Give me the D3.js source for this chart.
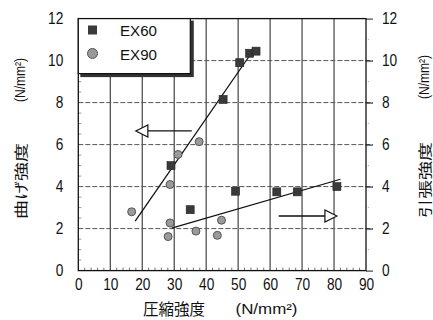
<!DOCTYPE html>
<html><head><meta charset="utf-8">
<script src="https://cdn.jsdelivr.net/npm/d3@7"></script>
<style>
html,body{margin:0;padding:0;background:#fff;}
svg{display:block;}
.num{font-family:"Liberation Sans",Arial,sans-serif;}
.cjk{font-family:"Noto Sans CJK JP",sans-serif;}
</style></head><body>
<svg id="c" width="433" height="320"></svg>
<script>
// ---- data ----
const xTicks = [0,10,20,30,40,50,60,70,80,90];
const yTicks = [0,2,4,6,8,10,12];
const seriesNames = ["EX60","EX90"];
const ex60X = [29,35,45.3,49.2,50.5,53.6,55.6,62.1,68.5,80.9];
const ex60Y = [5.0,2.9,8.15,3.78,9.9,10.35,10.45,3.75,3.75,4.0];
const ex90X = [16.7,28.7,31.2,37.8,28.7,28.1,36.8,44.8,43.5];
const ex90Y = [2.8,4.1,5.53,6.14,2.27,1.62,1.88,2.4,1.68];
const bendLineX = [17.8,54.1];
const bendLineY = [2.36,10.35];
const tensLineX = [29.2,82.0];
const tensLineY = [2.02,4.35];
const arrowLeft = {from:35.5, to:18.0, y:6.65};
const arrowRight = {from:62.7, to:80.9, y:2.6};
const xTitle = ["圧縮強度","(N/mm²)"];
const yLeftTitle = ["曲げ強度","(N/mm²)"];
const yRightTitle = ["引張強度","(N/mm²)"];

// ---- layout ----
const svg = d3.select("#c");
const L=78.3, R=366, T=18.6, B=270.6;
const x = d3.scaleLinear().domain([0,90]).range([L,R]);
const y = d3.scaleLinear().domain([0,12]).range([B,T]);

// grid
const g = svg.append("g");
g.selectAll(".vg").data(xTicks.filter(d=>d>0&&d<90)).enter().append("line")
  .attr("x1",d=>x(d)).attr("x2",d=>x(d)).attr("y1",y(0)).attr("y2",y(12))
  .attr("stroke","#333").attr("stroke-width",1.1);
g.selectAll(".hg").data(yTicks.filter(d=>d>0&&d<12)).enter().append("line")
  .attr("x1",x(0)).attr("x2",x(90)+7).attr("y1",d=>y(d)).attr("y2",d=>y(d))
  .attr("stroke","#555").attr("stroke-width",1).attr("stroke-dasharray","5,2");

// minor ticks
const xMinor = d3.range(0,91,2).filter(d=>d%10!==0);
g.selectAll(".xm").data(xMinor).enter().append("line")
  .attr("x1",d=>x(d)).attr("x2",d=>x(d)).attr("y1",y(0)).attr("y2",y(0)-3)
  .attr("stroke","#777").attr("stroke-width",1);
const yMinor = d3.range(0.5,12,0.5).filter(d=>d%2!==0);
g.selectAll(".ym").data(yMinor).enter().append("line")
  .attr("x1",x(0)).attr("x2",x(0)+3).attr("y1",d=>y(d)).attr("y2",d=>y(d))
  .attr("stroke","#999").attr("stroke-width",1);
g.selectAll(".yrm").data(d3.range(1,12,2)).enter().append("line")
  .attr("x1",x(90)).attr("x2",x(90)+4).attr("y1",d=>y(d)).attr("y2",d=>y(d))
  .attr("stroke","#aaa").attr("stroke-width",1).attr("stroke-dasharray","1,1");

// axes
const ax = svg.append("g").attr("transform",`translate(0,${B})`)
  .call(d3.axisBottom(x).tickValues(xTicks).tickSize(0).tickPadding(8));
const ayl = svg.append("g").attr("transform",`translate(${L},0)`)
  .call(d3.axisLeft(y).tickValues(yTicks).tickSize(0).tickPadding(15));
const ayr = svg.append("g").attr("transform",`translate(${R},0)`)
  .call(d3.axisRight(y).tickValues(yTicks).tickSize(7).tickPadding(9));
[ax,ayl,ayr].forEach(a=>{
  a.select(".domain").remove();
  a.selectAll("line").attr("stroke","#222");
  a.selectAll("text").attr("class","num").attr("font-size",16).attr("fill","#111")
    .attr("textLength",function(){return this.textContent.length*7.6;})
    .attr("lengthAdjust","spacingAndGlyphs");
});
// frame
svg.append("rect").attr("x",L).attr("y",T).attr("width",R-L).attr("height",B-T)
  .attr("fill","none").attr("stroke","#111").attr("stroke-width",1.3);

// legend
const lg = svg.append("g");
lg.append("rect").attr("x",L+2).attr("y",T+2).attr("width",113.5).attr("height",56.5).attr("fill","#333");
lg.append("rect").attr("x",L).attr("y",T).attr("width",112).attr("height",55)
  .attr("fill","#fff").attr("stroke","#111").attr("stroke-width",1.2);
lg.append("rect").attr("x",88).attr("y",25.5).attr("width",9).attr("height",9).attr("fill","#3a3a3a");
lg.append("circle").attr("cx",92.5).attr("cy",53.5).attr("r",5).attr("fill","#999").attr("stroke","#555").attr("stroke-width",1);
lg.selectAll("text").data(seriesNames).enter().append("text").attr("class","num")
  .attr("x",120).attr("y",(d,i)=>36+i*24).attr("font-size",15.5)
  .attr("textLength",37).attr("lengthAdjust","spacingAndGlyphs")
  .attr("fill","#111").text(d=>d);

// fit lines
const line = d3.line().x(d=>x(d[0])).y(d=>y(d[1]));
svg.append("path").attr("d",line(d3.zip(bendLineX,bendLineY))).attr("fill","none").attr("stroke","#111").attr("stroke-width",1.3);
svg.append("path").attr("d",line(d3.zip(tensLineX,tensLineY))).attr("fill","none").attr("stroke","#111").attr("stroke-width",1.3);

// arrows
function arrow(a){
  const dir = a.to < a.from ? -1 : 1;
  const tip = x(a.to), yy = y(a.y), base = tip - dir*12;
  svg.append("line").attr("x1",x(a.from)).attr("x2",base).attr("y1",yy).attr("y2",yy)
    .attr("stroke","#111").attr("stroke-width",1.3);
  svg.append("path").attr("d",`M${tip},${yy}L${base},${yy-6}L${base},${yy+6}Z`)
    .attr("fill","#fff").attr("stroke","#111").attr("stroke-width",1.2);
}
arrow(arrowLeft); arrow(arrowRight);

// points
svg.selectAll(".p60").data(d3.zip(ex60X,ex60Y)).enter().append("rect")
  .attr("x",d=>x(d[0])-4).attr("y",d=>y(d[1])-4).attr("width",8).attr("height",8)
  .attr("fill","#3a3a3a").attr("stroke","#222").attr("stroke-width",0.6);
svg.selectAll(".p90").data(d3.zip(ex90X,ex90Y)).enter().append("circle")
  .attr("cx",d=>x(d[0])).attr("cy",d=>y(d[1])).attr("r",4)
  .attr("fill","#9a9a9a").attr("stroke","#555").attr("stroke-width",1);

// titles
function vtitle(cx, c1, c2, parts){
  svg.append("text").attr("class","cjk").attr("font-size",13.5).attr("fill","#111")
    .attr("text-anchor","middle").attr("dominant-baseline","central")
    .attr("textLength",76).attr("lengthAdjust","spacingAndGlyphs")
    .attr("transform",`translate(${cx},${c1}) rotate(-90)`).text(parts[0]);
  svg.append("text").attr("class","num").attr("font-size",14).attr("fill","#111")
    .attr("text-anchor","middle").attr("dominant-baseline","central")
    .attr("textLength",44).attr("lengthAdjust","spacingAndGlyphs")
    .attr("transform",`translate(${cx},${c2}) rotate(-90)`).text(parts[1]);
}
vtitle(20, 181, 80, yLeftTitle);
vtitle(424, 180, 77, yRightTitle);
svg.append("text").attr("class","cjk").attr("font-size",15.5).attr("fill","#111")
  .attr("text-anchor","middle").attr("x",174).attr("y",315)
  .attr("textLength",62).attr("lengthAdjust","spacingAndGlyphs").text(xTitle[0]);
svg.append("text").attr("class","num").attr("font-size",15).attr("fill","#111")
  .attr("text-anchor","middle").attr("x",266.5).attr("y",314)
  .attr("textLength",62).attr("lengthAdjust","spacingAndGlyphs").text(xTitle[1]);
</script></body></html>
